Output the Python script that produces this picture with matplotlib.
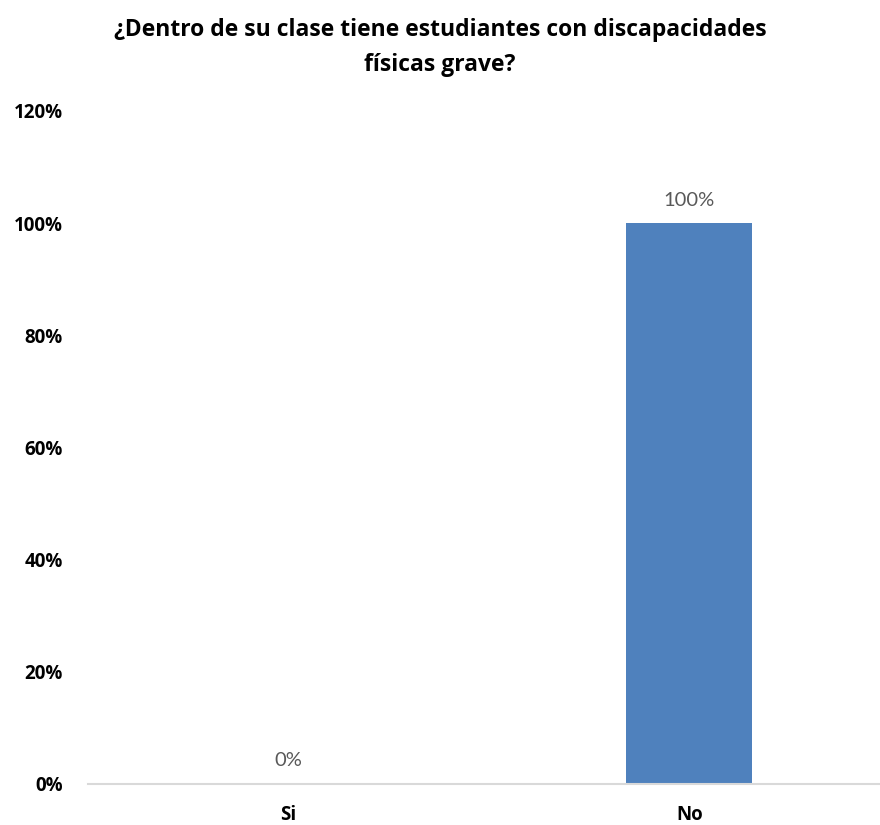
import matplotlib.pyplot as plt
from matplotlib.ticker import FuncFormatter

# datos
categorias = ['Si', 'No']
valores = [0, 1.0]
etiquetas = ['0%', '100%']

fig = plt.figure(figsize=(8.8, 8.25), dpi=100)
ax = fig.add_axes([0.1, 0.0497, 0.911, 0.8158])

x = range(len(categorias))
ax.bar(x, valores, width=0.314, color='#4F81BD')

for xi, v, t in zip(x, valores, etiquetas):
    ax.text(xi, v + 0.026, t, ha='center', va='bottom', fontsize=14.5,
            color='#595959', family='Lato')

ax.set_xlim(-0.5, 1.5)
ax.set_ylim(0, 1.2)
ax.set_yticks([0, 0.2, 0.4, 0.6, 0.8, 1.0, 1.2])
ax.yaxis.set_major_formatter(FuncFormatter(lambda v, p: f'{v*100:.0f}%'))
ax.set_xticks(list(x))
ax.set_xticklabels(categorias)

for lbl in ax.get_xticklabels() + ax.get_yticklabels():
    lbl.set_fontweight('bold')
    lbl.set_family('Open Sans')
    lbl.set_fontsize(13.5)
    lbl.set_color('black')

ax.tick_params(axis='both', length=0)
ax.tick_params(axis='y', pad=18)
ax.tick_params(axis='x', pad=15)
for s in ['top', 'right', 'left']:
    ax.spines[s].set_visible(False)
ax.spines['bottom'].set_color('#D9D9D9')
ax.spines['bottom'].set_linewidth(1.5)

fig.text(0.5, 0.978, '¿Dentro de su clase tiene estudiantes con discapacidades\nfísicas grave?',
         ha='center', va='top', fontsize=16.5, fontweight='bold', family='Open Sans',
         linespacing=1.6)

fig.savefig('out.png', dpi=100)
